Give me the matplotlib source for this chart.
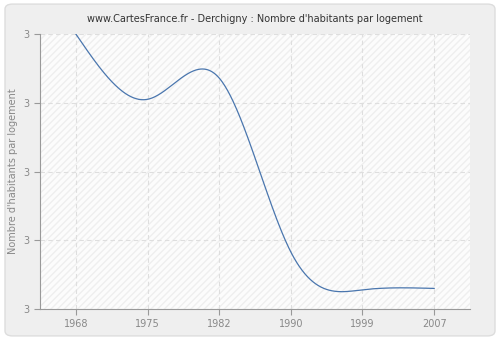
import numpy as np
import matplotlib
matplotlib.use("Agg")
import matplotlib.pyplot as plt
from matplotlib.patches import FancyBboxPatch
from matplotlib.ticker import FormatStrFormatter

years = ["1968", "1975", "1982", "1990", "1999", "2007"]
values = [3.0, 2.905, 2.936, 2.683, 2.628, 2.630]


def natural_spline(x, y, n=400):
    # natural cubic spline, just for the smooth look of the line
    x = np.asarray(x, float)
    y = np.asarray(y, float)
    k = len(x)
    h = np.diff(x)
    A = np.zeros((k, k))
    b = np.zeros(k)
    A[0, 0] = 1
    A[-1, -1] = 1
    for i in range(1, k - 1):
        A[i, i - 1] = h[i - 1]
        A[i, i] = 2 * (h[i - 1] + h[i])
        A[i, i + 1] = h[i]
        b[i] = 3 * ((y[i + 1] - y[i]) / h[i] - (y[i] - y[i - 1]) / h[i - 1])
    c = np.linalg.solve(A, b)
    xs = np.linspace(x[0], x[-1], n)
    ys = np.empty_like(xs)
    for j, t in enumerate(xs):
        i = min(np.searchsorted(x, t, side="right") - 1, k - 2)
        d = t - x[i]
        bi = (y[i + 1] - y[i]) / h[i] - h[i] * (2 * c[i] + c[i + 1]) / 3
        di = (c[i + 1] - c[i]) / (3 * h[i])
        ys[j] = y[i] + bi * d + c[i] * d ** 2 + di * d ** 3
    return xs, ys


fig = plt.figure(figsize=(5, 3.4), dpi=100)
fig.patch.set_facecolor("white")
bg = FancyBboxPatch((0.01, 0.012), 0.98, 0.976, boxstyle="round,pad=0,rounding_size=0.015",
                    transform=fig.transFigure, facecolor="#efefef", edgecolor="#dddddd", lw=1, zorder=-10)
fig.patches.append(bg)

ax = fig.add_axes([0.08, 0.091, 0.86, 0.809])
ax.set_facecolor("#fcfcfc")
ax.add_patch(plt.Rectangle((0, 0), 1, 1, transform=ax.transAxes, facecolor="none",
                           edgecolor="#efefef", hatch="/////", lw=0, zorder=0))

idx = np.arange(len(years))
xs, ys = natural_spline(idx, values)
ax.plot(xs, ys, color="#4a76ae", lw=0.9, zorder=3)

ax.set_xlim(-0.5, 5.5)
ax.set_ylim(2.6, 3.0)
ax.set_xticks(idx)
ax.set_xticklabels(years)
ax.set_yticks([2.6, 2.7, 2.8, 2.9, 3.0])
ax.yaxis.set_major_formatter(FormatStrFormatter("%.0f"))

ax.grid(True, color="#dedede", linestyle=(0, (4, 3)), lw=0.8)
for s in ["top", "right"]:
    ax.spines[s].set_visible(False)
for s in ["left", "bottom"]:
    ax.spines[s].set_color("#999999")
ax.tick_params(colors="#999999", labelcolor="#888888", labelsize=7, length=4)

ax.set_title("www.CartesFrance.fr - Derchigny : Nombre d'habitants par logement", fontsize=7, color="#333333", pad=9)
ax.set_ylabel("Nombre d'habitants par logement", fontsize=7, color="#888888")

fig.savefig("out.png", dpi=100, facecolor=fig.get_facecolor())
